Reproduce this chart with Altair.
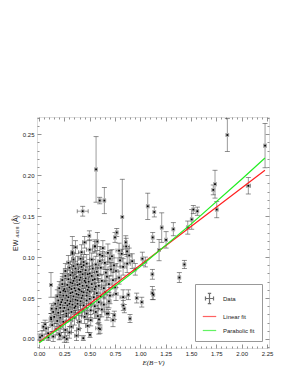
import altair as alt
import pandas as pd

# (E(B-V), EW, err_E, err_EW)
CLUSTER = [
    (0.33,0.104,0.02,0.010),(0.36,0.112,0.02,0.008),(0.42,0.106,0.03,0.009),(0.45,0.118,0.02,0.007),(0.50,0.109,0.03,0.012),(0.55,0.113,0.02,0.008),(0.60,0.103,0.03,0.010),(0.63,0.111,0.02,0.009),(0.68,0.105,0.03,0.011),(0.72,0.101,0.02,0.008),(0.79,0.108,0.03,0.009),(0.86,0.113,0.03,0.010),(0.89,0.102,0.02,0.009),
    (0.29,0.093,0.02,0.009),(0.34,0.097,0.02,0.008),(0.38,0.091,0.03,0.010),(0.41,0.098,0.02,0.007),(0.44,0.094,0.02,0.009),(0.47,0.092,0.03,0.011),(0.52,0.097,0.02,0.008),(0.56,0.091,0.03,0.010),(0.60,0.095,0.02,0.009),(0.65,0.093,0.03,0.008),(0.70,0.098,0.02,0.010),(0.74,0.090,0.03,0.009),(0.80,0.096,0.02,0.008),(0.87,0.092,0.03,0.011),(0.92,0.095,0.02,0.009),
    (0.26,0.083,0.02,0.009),(0.30,0.087,0.02,0.008),(0.33,0.081,0.02,0.010),(0.36,0.086,0.03,0.009),(0.39,0.082,0.02,0.007),(0.42,0.088,0.02,0.010),(0.46,0.084,0.03,0.008),(0.50,0.080,0.02,0.009),(0.53,0.086,0.03,0.011),(0.57,0.082,0.02,0.008),(0.61,0.087,0.03,0.009),(0.66,0.081,0.02,0.010),(0.71,0.085,0.03,0.008),(0.76,0.083,0.02,0.009),(0.83,0.088,0.03,0.010),
    (0.23,0.072,0.02,0.008),(0.26,0.077,0.02,0.009),(0.29,0.073,0.02,0.007),(0.31,0.078,0.02,0.010),(0.34,0.071,0.02,0.008),(0.37,0.076,0.03,0.009),(0.40,0.072,0.02,0.008),(0.43,0.079,0.02,0.010),(0.46,0.074,0.03,0.007),(0.49,0.070,0.02,0.009),(0.52,0.077,0.02,0.008),(0.55,0.073,0.03,0.010),(0.58,0.078,0.02,0.009),(0.62,0.071,0.03,0.008),(0.67,0.076,0.02,0.009),(0.73,0.072,0.03,0.010),(0.79,0.075,0.02,0.008),
    (0.20,0.062,0.02,0.008),(0.23,0.067,0.02,0.009),(0.25,0.061,0.02,0.007),(0.28,0.066,0.02,0.008),(0.30,0.063,0.02,0.010),(0.33,0.068,0.02,0.008),(0.35,0.062,0.03,0.009),(0.38,0.066,0.02,0.007),(0.40,0.060,0.02,0.008),(0.43,0.065,0.03,0.009),(0.46,0.069,0.02,0.010),(0.49,0.063,0.02,0.008),(0.52,0.067,0.03,0.009),(0.55,0.061,0.02,0.007),(0.59,0.065,0.03,0.009),(0.64,0.062,0.02,0.008),(0.69,0.067,0.03,0.010),(0.75,0.063,0.02,0.009),
    (0.18,0.052,0.02,0.008),(0.21,0.057,0.02,0.009),(0.24,0.053,0.02,0.007),(0.26,0.058,0.02,0.008),(0.29,0.051,0.02,0.009),(0.31,0.056,0.02,0.008),(0.34,0.052,0.02,0.010),(0.36,0.059,0.03,0.008),(0.39,0.054,0.02,0.007),(0.42,0.050,0.02,0.009),(0.44,0.057,0.03,0.008),(0.47,0.053,0.02,0.010),(0.50,0.058,0.02,0.007),(0.54,0.051,0.03,0.009),(0.57,0.056,0.02,0.008),(0.61,0.052,0.03,0.009),(0.65,0.057,0.02,0.008),(0.70,0.053,0.03,0.010),(0.76,0.055,0.02,0.008),(0.83,0.051,0.03,0.009),
    (0.16,0.043,0.02,0.008),(0.19,0.047,0.02,0.007),(0.21,0.042,0.02,0.009),(0.23,0.048,0.02,0.008),(0.26,0.044,0.02,0.007),(0.28,0.041,0.02,0.009),(0.31,0.046,0.02,0.008),(0.33,0.042,0.02,0.007),(0.36,0.048,0.03,0.009),(0.38,0.043,0.02,0.008),(0.41,0.046,0.02,0.010),(0.44,0.041,0.03,0.008),(0.47,0.047,0.02,0.009),(0.51,0.043,0.02,0.008),(0.55,0.040,0.03,0.009),(0.59,0.045,0.02,0.008),(0.64,0.042,0.03,0.009),(0.69,0.046,0.02,0.008),
    (0.14,0.033,0.02,0.008),(0.17,0.037,0.02,0.007),(0.19,0.032,0.02,0.008),(0.21,0.038,0.02,0.009),(0.24,0.034,0.02,0.007),(0.27,0.031,0.02,0.008),(0.29,0.036,0.02,0.009),(0.32,0.033,0.02,0.007),(0.35,0.038,0.02,0.008),(0.39,0.032,0.03,0.009),(0.43,0.036,0.02,0.008),(0.47,0.031,0.02,0.007),(0.51,0.035,0.03,0.009),(0.56,0.033,0.02,0.008),(0.62,0.036,0.03,0.009),(0.67,0.031,0.02,0.008),
    (0.12,0.024,0.02,0.007),(0.15,0.027,0.02,0.008),(0.18,0.022,0.02,0.007),(0.21,0.026,0.02,0.008),(0.24,0.021,0.02,0.009),(0.27,0.028,0.02,0.007),(0.31,0.023,0.02,0.008),(0.35,0.026,0.02,0.009),(0.40,0.021,0.02,0.008),(0.45,0.027,0.03,0.008),(0.51,0.023,0.02,0.007),(0.58,0.028,0.03,0.009),(0.73,0.023,0.02,0.008),
    (0.07,0.013,0.02,0.007),(0.13,0.017,0.02,0.008),(0.17,0.012,0.02,0.007),(0.21,0.016,0.02,0.008),(0.26,0.011,0.02,0.009),(0.32,0.015,0.02,0.007),(0.39,0.012,0.02,0.008),(0.48,0.016,0.02,0.008),(0.59,0.013,0.03,0.007),
    (0.03,0.004,0.02,0.006),(0.09,0.007,0.02,0.007),(0.14,0.003,0.02,0.006),(0.20,0.006,0.02,0.007),(0.25,0.002,0.02,0.006),(0.30,0.008,0.02,0.007),(0.37,0.004,0.02,0.006),
]

DENSE = [
    (0.32,0.061,0.02,0.008),(0.35,0.074,0.02,0.009),(0.37,0.055,0.02,0.008),(0.40,0.067,0.02,0.009),(0.42,0.058,0.02,0.007),(0.45,0.071,0.03,0.009),(0.48,0.060,0.02,0.008),(0.41,0.082,0.02,0.009),(0.38,0.047,0.02,0.008),(0.30,0.043,0.02,0.008),(0.27,0.053,0.02,0.009),(0.44,0.090,0.02,0.010),(0.53,0.072,0.02,0.009),(0.56,0.064,0.02,0.008),(0.48,0.079,0.02,0.009),(0.50,0.049,0.02,0.008),(0.34,0.089,0.02,0.010),(0.24,0.059,0.02,0.008),
    (0.28,0.047,0.02,0.008),(0.33,0.057,0.02,0.009),(0.39,0.061,0.02,0.008),(0.43,0.053,0.02,0.009),(0.47,0.065,0.02,0.008),(0.36,0.040,0.02,0.008),(0.31,0.069,0.02,0.009),(0.25,0.038,0.02,0.008),(0.22,0.045,0.02,0.008),(0.41,0.075,0.02,0.009),
]

OUTLIERS = [
    (0.563,0.207,0.012,0.040),(0.431,0.156,0.054,0.006),(0.599,0.169,0.012,0.004),(0.645,0.169,0.012,0.016),(0.822,0.149,0.012,0.046),(1.073,0.162,0.012,0.016),(0.497,0.126,0.012,0.006),(0.553,0.113,0.012,0.006),(0.576,0.119,0.012,0.011),(0.329,0.106,0.012,0.019),(0.750,0.124,0.012,0.006),(0.767,0.130,0.012,0.005),(0.856,0.118,0.012,0.008),(0.869,0.107,0.012,0.006),(0.816,0.104,0.012,0.005),(0.625,0.1015,0.012,0.005),
    (1.859,0.249,0.012,0.020),(2.231,0.236,0.012,0.027),(2.066,0.187,0.020,0.010),(1.737,0.189,0.012,0.017),(1.720,0.182,0.012,0.006),(1.754,0.158,0.012,0.010),(1.523,0.158,0.012,0.005),(1.563,0.156,0.012,0.005),(1.507,0.146,0.012,0.012),(1.468,0.136,0.012,0.008),(1.326,0.134,0.012,0.008),(1.211,0.136,0.012,0.018),(1.138,0.155,0.012,0.006),(1.122,0.124,0.012,0.006),(1.254,0.121,0.012,0.010),(1.185,0.1085,0.012,0.013),
    (1.119,0.079,0.012,0.006),(1.119,0.056,0.012,0.008),(1.385,0.075,0.012,0.006),(1.435,0.091,0.012,0.005),(1.128,0.054,0.012,0.006),(1.014,0.045,0.012,0.006),(0.964,0.050,0.012,0.006),(0.898,0.025,0.012,0.005),(0.882,0.054,0.012,0.006),(0.832,0.041,0.012,0.006),(0.842,0.037,0.012,0.005),(0.743,0.029,0.012,0.005),(0.684,0.031,0.012,0.005),(0.602,0.012,0.012,0.005),(0.592,0.024,0.012,0.006),
    (0.118,0.066,0.012,0.015),(0.125,0.037,0.012,0.006),(0.118,0.026,0.012,0.005),(0.503,0.005,0.012,0.003),(0.437,0.001,0.012,0.003),(0.043,0.015,0.012,0.005),(0.060,0.018,0.012,0.005),(0.010,0.002,0.012,0.004),(0.207,0.004,0.012,0.004),(0.273,0.000,0.012,0.004),(0.092,0.002,0.012,0.004),
    (1.020,0.098,0.012,0.008),(0.950,0.085,0.012,0.007),(1.050,0.094,0.012,0.006),
]

FIT_X = [0.0, 0.5, 1.0, 1.5, 2.0, 2.23]
LIN_Y = [-0.004, 0.0431, 0.0902, 0.1373, 0.1844, 0.206]
PAR_Y = [-0.005, 0.0401, 0.0885, 0.1402, 0.1950, 0.221]

SERIES = ["Data", "Linear fit", "Parabolic fit"]
SER_COLORS = ["#333333", "#ff2020", "#22ee22"]
SER_SHAPES = [
    "M-0.6,0H0.6M0,-0.75V0.75M-0.25,-0.75H0.25M-0.25,0.75H0.25M-0.6,-0.3V0.3M0.6,-0.3V0.3",
    "M-1,0H1",
    "M-1,0H1",
]
# placeholder positions for the legend-only layer (outside the plotted domain, clipped)
LEG_E = [-1.0, -1.0, -1.0]
LEG_EW = [-1.0, -1.0, -1.0]

X_MAJOR = [0.0, 0.25, 0.5, 0.75, 1.0, 1.25, 1.5, 1.75, 2.0, 2.25]
Y_MAJOR = [0.0, 0.05, 0.10, 0.15, 0.20, 0.25]
X_MINOR = [round(i * 0.05, 2) for i in range(0, 46)]
Y_MINOR = [round(i * 0.01, 2) for i in range(-1, 28)]

W, H = 232, 231
FONT = "Liberation Sans"

df = pd.DataFrame(CLUSTER + DENSE + OUTLIERS, columns=["E", "EW", "dE", "dEW"])
df["ylo"] = df["EW"] - df["dEW"]
df["yhi"] = df["EW"] + df["dEW"]
df["xlo"] = df["E"] - df["dE"]
df["xhi"] = df["E"] + df["dE"]

fit_rows = []
for x, y in zip(FIT_X, LIN_Y):
    fit_rows.append({"E": x, "EW": y, "series": "Linear fit"})
for x, y in zip(FIT_X, PAR_Y):
    fit_rows.append({"E": x, "EW": y, "series": "Parabolic fit"})
fit_df = pd.DataFrame(fit_rows)

leg_df = pd.DataFrame({"series": SERIES, "E": LEG_E, "EW": LEG_EW})

xs = alt.Scale(domain=[-0.02, 2.27], nice=False, zero=False)
ys = alt.Scale(domain=[-0.011, 0.271], nice=False, zero=False)

xsize = {"condition": {"test": "abs(datum.value*4 - round(datum.value*4)) < 0.001", "value": 4}, "value": 2}
ysize = {"condition": {"test": "abs(datum.value*20 - round(datum.value*20)) < 0.001", "value": 4}, "value": 2}

x_lab = alt.Axis(orient="bottom", values=X_MAJOR, format=".2f", ticks=False, domain=False, grid=False,
                 labelPadding=2, labelFontSize=6, labelFont=FONT, labelColor="#222",
                 title="E(B−V)", titleFont="Liberation Serif", titleFontStyle="italic",
                 titleFontWeight="normal", titleFontSize=7, titlePadding=2, titleColor="#222")
x_in_bottom = alt.Axis(orient="top", offset=-H, values=X_MINOR, labels=False, domain=False, grid=False,
                       title=None, tickSize=xsize, tickColor="#777", tickWidth=0.8)
x_in_top = alt.Axis(orient="bottom", offset=-H, values=X_MINOR, labels=False, domain=False, grid=False,
                    title=None, tickSize=xsize, tickColor="#777", tickWidth=0.8)
y_lab = alt.Axis(orient="left", values=Y_MAJOR, format=".2f", ticks=False, domain=False, grid=False,
                 labelPadding=3, labelFontSize=6, labelFont=FONT, labelColor="#222",
                 title="EW ₄₄₂₈  (Å)", titleFont=FONT, titleFontWeight="normal", titleFontSize=7,
                 titlePadding=4, titleColor="#222")
y_in_left = alt.Axis(orient="right", offset=-W, values=Y_MINOR, labels=False, domain=False, grid=False,
                     title=None, tickSize=ysize, tickColor="#777", tickWidth=0.8)
y_in_right = alt.Axis(orient="left", offset=-W, values=Y_MINOR, labels=False, domain=False, grid=False,
                      title=None, tickSize=ysize, tickColor="#777", tickWidth=0.8)

base = alt.Chart(df)

vbars = base.mark_rule(color="#9c9c9c", strokeWidth=1).encode(
    x=alt.X("E:Q", scale=xs, axis=x_lab),
    y=alt.Y("ylo:Q", scale=ys, axis=y_lab),
    y2="yhi:Q",
)
hbars = base.mark_rule(color="#9c9c9c", strokeWidth=1).encode(
    x=alt.X("xlo:Q", scale=xs, axis=x_in_bottom),
    x2="xhi:Q",
    y=alt.Y("EW:Q", scale=ys, axis=y_in_left),
)
vcaps = base.transform_fold(["ylo", "yhi"], as_=["k", "v"]).mark_tick(
    orient="horizontal", size=5, thickness=0.8, color="#3a3a3a"
).encode(
    x=alt.X("E:Q", scale=xs, axis=x_in_top),
    y=alt.Y("v:Q", scale=ys, axis=y_in_right),
)
hcaps = base.transform_fold(["xlo", "xhi"], as_=["k", "v"]).mark_tick(
    orient="vertical", size=4, thickness=0.8, color="#3a3a3a"
).encode(
    x=alt.X("v:Q", scale=xs, axis=None),
    y=alt.Y("EW:Q", scale=ys, axis=None),
)
pts_bg = base.mark_square(size=14, color="#b0b0b0", opacity=1).encode(
    x=alt.X("E:Q", scale=xs, axis=None),
    y=alt.Y("EW:Q", scale=ys, axis=None),
)
pts = base.mark_square(size=3, color="#000000", opacity=1).encode(
    x=alt.X("E:Q", scale=xs, axis=None),
    y=alt.Y("EW:Q", scale=ys, axis=None),
)

cscale = alt.Scale(domain=SERIES, range=SER_COLORS)
sscale = alt.Scale(domain=SERIES, range=SER_SHAPES)

leg_props = dict(orient="bottom-right", offset=7, title=None, labelFont=FONT, labelFontSize=6,
                 labelColor="#222", symbolSize=180, symbolStrokeWidth=1.2, rowPadding=3,
                 labelOffset=6, padding=7, strokeColor="#999", fillColor="white", cornerRadius=0)

fits = alt.Chart(fit_df).mark_line(strokeWidth=1.2).encode(
    x=alt.X("E:Q", scale=xs, axis=None),
    y=alt.Y("EW:Q", scale=ys, axis=None),
    color=alt.Color("series:N", scale=cscale, legend=alt.Legend(**leg_props)),
)

legend_layer = alt.Chart(leg_df).mark_point(filled=False, strokeWidth=1.2, clip=True).encode(
    x=alt.X("E:Q", scale=xs, axis=None),
    y=alt.Y("EW:Q", scale=ys, axis=None),
    color=alt.Color("series:N", scale=cscale, legend=alt.Legend(**leg_props)),
    shape=alt.Shape("series:N", scale=sscale, legend=alt.Legend(**leg_props)),
)

chart = alt.layer(vbars, hbars, vcaps, hcaps, pts_bg, pts, fits, legend_layer).resolve_axis(
    x="independent", y="independent"
).properties(
    width=W, height=H,
    autosize=alt.AutoSizeParams(type="none"),
    padding={"left": 29, "top": 109, "right": 20, "bottom": 29},
).configure_view(stroke="#888888", strokeWidth=1).configure(background="white")

chart.save("out.html", embed_options={"renderer": "svg", "actions": False})
